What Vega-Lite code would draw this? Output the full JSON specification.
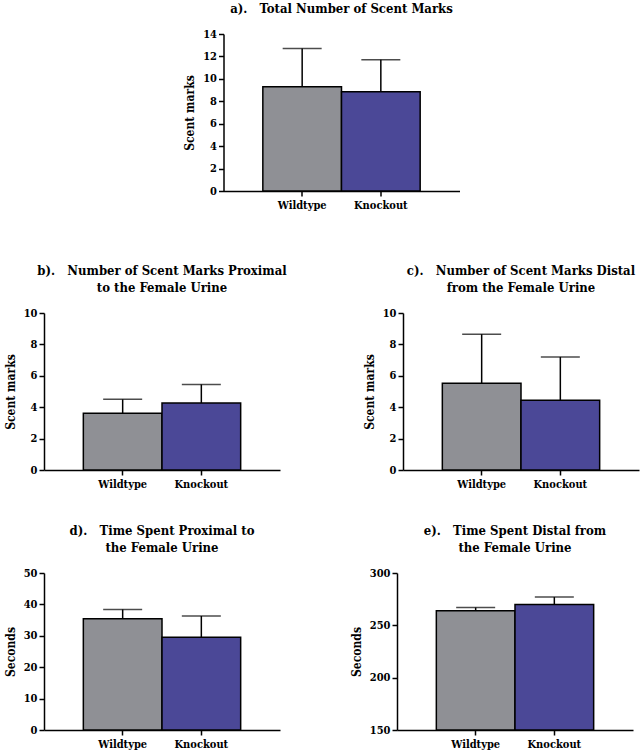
{
  "$schema": "https://vega.github.io/schema/vega-lite/v6.json",
  "background": "white",
  "padding": {"left": 4, "top": 3, "right": 5, "bottom": 3},
  "datasets": {
    "bars": [
      {"panel": "a", "group": "Wildtype", "mean": 9.3, "upper": 12.7},
      {"panel": "a", "group": "Knockout", "mean": 8.85, "upper": 11.7},
      {"panel": "b", "group": "Wildtype", "mean": 3.62, "upper": 4.5},
      {"panel": "b", "group": "Knockout", "mean": 4.27, "upper": 5.45},
      {"panel": "c", "group": "Wildtype", "mean": 5.52, "upper": 8.65},
      {"panel": "c", "group": "Knockout", "mean": 4.45, "upper": 7.2},
      {"panel": "d", "group": "Wildtype", "mean": 35.4, "upper": 38.4},
      {"panel": "d", "group": "Knockout", "mean": 29.5, "upper": 36.3},
      {"panel": "e", "group": "Wildtype", "mean": 264, "upper": 267},
      {"panel": "e", "group": "Knockout", "mean": 270, "upper": 277}
    ]
  },
  "data": {"name": "bars"},
  "spacing": 36,
  "vconcat": [
    {
      "spacing": 55,
      "center": true,
      "vconcat": [
        {
          "width": 236, "height": 157,
          "title": {"text": "a).\u00a0\u00a0\u00a0Total Number of Scent Marks"},
          "transform": [{"filter": "datum.panel === 'a'"}],
          "encoding": {
            "x": {"field": "group", "type": "nominal", "sort": ["Wildtype", "Knockout"], "scale": {"paddingInner": 0, "paddingOuter": 0.5}, "title": null},
            "y": {"field": "mean", "type": "quantitative", "scale": {"domain": [0, 14], "nice": false, "zero": false}, "axis": {"title": "Scent marks", "values": [0, 2, 4, 6, 8, 10, 12, 14]}}
          },
          "layer": [
            {"mark": {"type": "bar", "stroke": "black", "strokeWidth": 1.5}, "encoding": {"y2": {"datum": 0}, "color": {"field": "group", "type": "nominal", "scale": {"domain": ["Wildtype", "Knockout"], "range": ["#8f9095", "#4b4897"]}, "legend": null}}},
            {"mark": {"type": "rule", "color": "black", "strokeWidth": 1.5}, "encoding": {"y2": {"field": "upper"}}},
            {"mark": {"type": "tick", "color": "black", "thickness": 1.5, "size": 39}, "encoding": {"y": {"field": "upper", "type": "quantitative", "axis": {"title": "Scent marks", "values": [0, 2, 4, 6, 8, 10, 12, 14]}}}}
          ]
        },
        {
          "spacing": 76,
          "hconcat": [
            {
              "width": 236, "height": 157,
              "title": {"text": ["b).\u00a0\u00a0\u00a0Number of Scent Marks Proximal", "to the Female Urine"]},
              "transform": [{"filter": "datum.panel === 'b'"}],
              "encoding": {
                "x": {"field": "group", "type": "nominal", "sort": ["Wildtype", "Knockout"], "scale": {"paddingInner": 0, "paddingOuter": 0.5}, "title": null},
                "y": {"field": "mean", "type": "quantitative", "scale": {"domain": [0, 10], "nice": false, "zero": false}, "axis": {"title": "Scent marks", "values": [0, 2, 4, 6, 8, 10]}}
              },
              "layer": [
                {"mark": {"type": "bar", "stroke": "black", "strokeWidth": 1.5}, "encoding": {"y2": {"datum": 0}, "color": {"field": "group", "type": "nominal", "scale": {"domain": ["Wildtype", "Knockout"], "range": ["#8f9095", "#4b4897"]}, "legend": null}}},
                {"mark": {"type": "rule", "color": "black", "strokeWidth": 1.5}, "encoding": {"y2": {"field": "upper"}}},
                {"mark": {"type": "tick", "color": "black", "thickness": 1.5, "size": 39}, "encoding": {"y": {"field": "upper", "type": "quantitative", "axis": {"title": "Scent marks", "values": [0, 2, 4, 6, 8, 10]}}}}
              ]
            },
            {
              "width": 236, "height": 157,
              "title": {"text": ["c).\u00a0\u00a0\u00a0Number of Scent Marks Distal", "from the Female Urine"]},
              "transform": [{"filter": "datum.panel === 'c'"}],
              "encoding": {
                "x": {"field": "group", "type": "nominal", "sort": ["Wildtype", "Knockout"], "scale": {"paddingInner": 0, "paddingOuter": 0.5}, "title": null},
                "y": {"field": "mean", "type": "quantitative", "scale": {"domain": [0, 10], "nice": false, "zero": false}, "axis": {"title": "Scent marks", "values": [0, 2, 4, 6, 8, 10]}}
              },
              "layer": [
                {"mark": {"type": "bar", "stroke": "black", "strokeWidth": 1.5}, "encoding": {"y2": {"datum": 0}, "color": {"field": "group", "type": "nominal", "scale": {"domain": ["Wildtype", "Knockout"], "range": ["#8f9095", "#4b4897"]}, "legend": null}}},
                {"mark": {"type": "rule", "color": "black", "strokeWidth": 1.5}, "encoding": {"y2": {"field": "upper"}}},
                {"mark": {"type": "tick", "color": "black", "thickness": 1.5, "size": 39}, "encoding": {"y": {"field": "upper", "type": "quantitative", "axis": {"title": "Scent marks", "values": [0, 2, 4, 6, 8, 10]}}}}
              ]
            }
          ]
        }
      ]
    },
    {
      "spacing": 70,
      "hconcat": [
        {
          "width": 236, "height": 157,
          "title": {"text": ["d).\u00a0\u00a0\u00a0Time Spent Proximal to", "the Female Urine"]},
          "transform": [{"filter": "datum.panel === 'd'"}],
          "encoding": {
            "x": {"field": "group", "type": "nominal", "sort": ["Wildtype", "Knockout"], "scale": {"paddingInner": 0, "paddingOuter": 0.5}, "title": null},
            "y": {"field": "mean", "type": "quantitative", "scale": {"domain": [0, 50], "nice": false, "zero": false}, "axis": {"title": "Seconds", "values": [0, 10, 20, 30, 40, 50]}}
          },
          "layer": [
            {"mark": {"type": "bar", "stroke": "black", "strokeWidth": 1.5}, "encoding": {"y2": {"datum": 0}, "color": {"field": "group", "type": "nominal", "scale": {"domain": ["Wildtype", "Knockout"], "range": ["#8f9095", "#4b4897"]}, "legend": null}}},
            {"mark": {"type": "rule", "color": "black", "strokeWidth": 1.5}, "encoding": {"y2": {"field": "upper"}}},
            {"mark": {"type": "tick", "color": "black", "thickness": 1.5, "size": 39}, "encoding": {"y": {"field": "upper", "type": "quantitative", "axis": {"title": "Seconds", "values": [0, 10, 20, 30, 40, 50]}}}}
          ]
        },
        {
          "width": 236, "height": 157,
          "title": {"text": ["e).\u00a0\u00a0\u00a0Time Spent Distal from", "the Female Urine"]},
          "transform": [{"filter": "datum.panel === 'e'"}],
          "encoding": {
            "x": {"field": "group", "type": "nominal", "sort": ["Wildtype", "Knockout"], "scale": {"paddingInner": 0, "paddingOuter": 0.5}, "title": null},
            "y": {"field": "mean", "type": "quantitative", "scale": {"domain": [150, 300], "nice": false, "zero": false}, "axis": {"title": "Seconds", "values": [150, 200, 250, 300]}}
          },
          "layer": [
            {"mark": {"type": "bar", "stroke": "black", "strokeWidth": 1.5}, "encoding": {"y2": {"datum": 150}, "color": {"field": "group", "type": "nominal", "scale": {"domain": ["Wildtype", "Knockout"], "range": ["#8f9095", "#4b4897"]}, "legend": null}}},
            {"mark": {"type": "rule", "color": "black", "strokeWidth": 1.5}, "encoding": {"y2": {"field": "upper"}}},
            {"mark": {"type": "tick", "color": "black", "thickness": 1.5, "size": 39}, "encoding": {"y": {"field": "upper", "type": "quantitative", "axis": {"title": "Seconds", "values": [150, 200, 250, 300]}}}}
          ]
        }
      ]
    }
  ],
  "config": {
    "view": {"stroke": null},
    "font": "DejaVu Serif Condensed, DejaVu Serif",
    "axis": {
      "grid": false,
      "domainColor": "black", "domainWidth": 1.5,
      "tickColor": "black", "tickWidth": 1.5, "tickSize": 5,
      "labelFont": "DejaVu Serif Condensed, DejaVu Serif", "labelFontWeight": "bold", "labelFontSize": 11, "labelColor": "black",
      "titleFont": "DejaVu Serif Condensed, DejaVu Serif", "titleFontWeight": "bold", "titleFontSize": 12, "titleColor": "black"
    },
    "axisX": {"labelAngle": 0, "labelPadding": 3},
    "axisY": {"titlePadding": 6},
    "title": {"font": "DejaVu Serif Condensed, DejaVu Serif", "fontSize": 13, "fontWeight": "bold", "color": "black", "offset": 12, "anchor": "middle", "lineHeight": 17}
  }
}
